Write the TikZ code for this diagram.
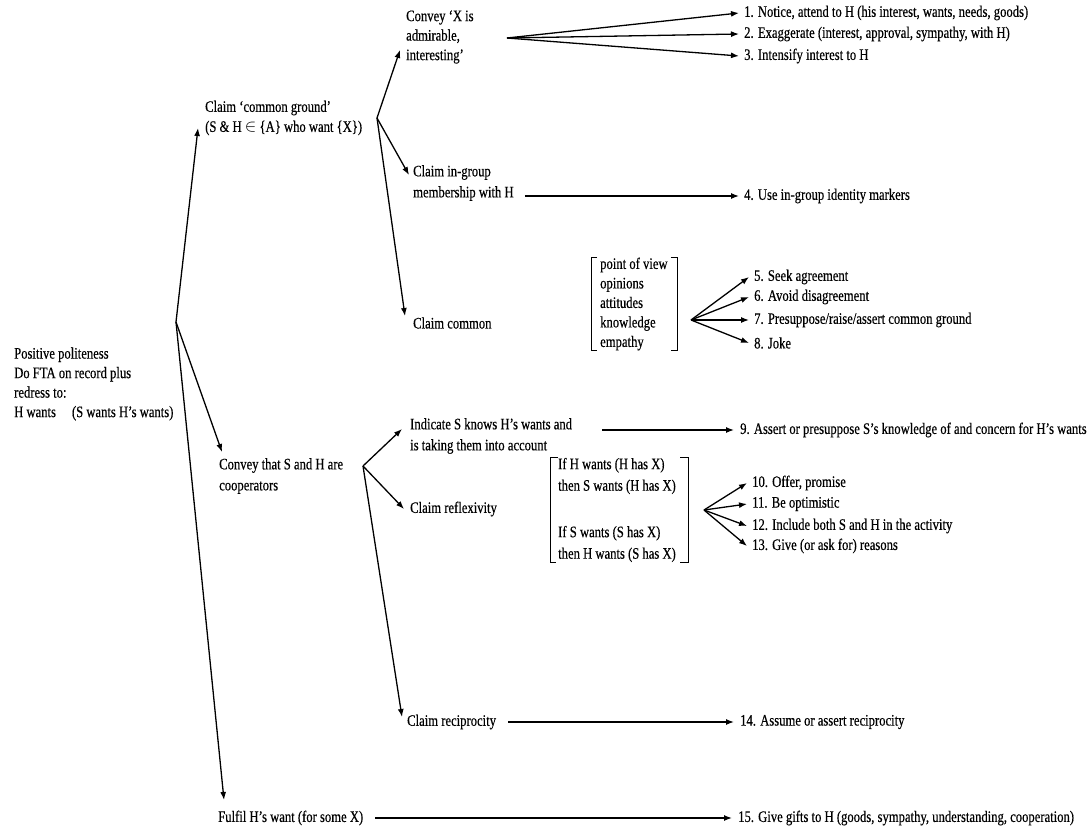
\documentclass[tikz,border=0pt]{standalone}
\usepackage{fontspec}
\setmainfont{Liberation Serif}[FakeStretch=0.79, FakeBold=0.4]
\usepackage{xcolor}
\usepackage{tikz}
\usetikzlibrary{arrows.meta, positioning, calc}
\tikzset{
    txt/.style={anchor=west, inner sep=0pt, align=left, font=\fontsize{16}{20}\selectfont},
    branch/.style={-{Latex[length=8pt,width=6pt]}, line width=1.3pt},
    bracket/.style={line width=1pt}
}

\begin{document}
\begin{tikzpicture}[x=1pt,y=-1pt]
    \useasboundingbox (0,0) rectangle (1092,835);

    \node[txt, font=\fontsize{16}{19.5}\selectfont] (pp) at (14,384) {Positive politeness\\Do FTA on record plus\\redress to:\\H wants\quad(S wants H's wants)};

    \node[txt] (ccg) at (205,118) {Claim `common ground'\\(S \& H $\in$ \{A\} who want \{X\})};
    \node[txt, font=\fontsize{16}{19.5}\selectfont] (cxa) at (406,37) {Convey `X is\\admirable,\\interesting'};
    \node[txt] (s1) at (744,13) {1. Notice, attend to H (his interest, wants, needs, goods)};
    \node[txt] (s2) at (744,34) {2. Exaggerate (interest, approval, sympathy, with H)};
    \node[txt] (s3) at (744,56) {3. Intensify interest to H};
    \node[txt, font=\fontsize{16}{21}\selectfont] (cig) at (413,183) {Claim in-group\\membership with H};
    \node[txt] (s4) at (744,196) {4. Use in-group identity markers};
    \node[txt] (cc) at (413,323) {Claim common};
    \node[txt, font=\fontsize{16}{19.5}\selectfont] (lst) at (600,304) {point of view\\opinions\\attitudes\\knowledge\\empathy};
    \node[txt] (s5) at (754,277) {5. Seek agreement};
    \node[txt] (s6) at (754,297) {6. Avoid disagreement};
    \node[txt] (s7) at (754,320) {7. Presuppose/raise/assert common ground};
    \node[txt] (s8) at (754,343) {8. Joke};

    \node[txt, font=\fontsize{16}{21}\selectfont] (coop) at (219,476) {Convey that S and H are\\cooperators};
    \node[txt, font=\fontsize{16}{21}\selectfont] (ind) at (410,436) {Indicate S knows H's wants and\\is taking them into account};
    \node[txt] (s9) at (740,430) {9. Assert or presuppose S's knowledge of and concern for H's wants};
    \node[txt] (crf) at (410,509) {Claim reflexivity};
    \node[txt, font=\fontsize{16}{21.5}\selectfont] (cnd) at (558,510) {If H wants (H has X)\\then S wants (H has X)\\[25pt]If S wants (S has X)\\then H wants (S has X)};
    \node[txt] (s10) at (752,483) {10. Offer, promise};
    \node[txt] (s11) at (752,504) {11. Be optimistic};
    \node[txt] (s12) at (752,526) {12. Include both S and H in the activity};
    \node[txt] (s13) at (752,546) {13. Give (or ask for) reasons};
    \node[txt] (crc) at (407,722) {Claim reciprocity};
    \node[txt] (s14) at (740,722) {14. Assume or assert reciprocity};

    \node[txt] (ful) at (218,818) {Fulfil H's want (for some X)};
    \node[txt] (s15) at (738,818) {15. Give gifts to H (goods, sympathy, understanding, cooperation)};

    \coordinate (o1) at (176,322);
    \coordinate (o2) at (377,118);
    \coordinate (o3) at (507,38);
    \coordinate (o4) at (691,320);
    \coordinate (o5) at (363,466);
    \coordinate (o6) at (704,510);

    \draw[branch] (o1) -- ([xshift=-7pt,yshift=-10pt]ccg.west);
    \draw[branch] (o1) -- ([xshift=3pt,yshift=24pt]coop.west);
    \draw[branch] (o1) -- ([xshift=6pt,yshift=18pt]ful.west);

    \draw[branch] (o2) -- ([xshift=-6pt,yshift=-13pt]cxa.west);
    \draw[branch] (o2) -- ([xshift=-4pt,yshift=8pt]cig.west);
    \draw[branch] (o2) -- ([xshift=-8pt,yshift=7pt]cc.west);
    \foreach \n in {s1,s2,s3}
        \draw[branch] (o3) -- ([xshift=-5pt]\n.west);
    \draw[branch] ($(cig.east |- s4.west)+(11,0)$) -- ([xshift=-5pt]s4.west);

    \draw[bracket] ($(lst.north west)+(-3,0)$) -- ++(-6,0) |- ($(lst.south west)+(-3,0)$);
    \draw[bracket] ($(lst.north east)+(3,0)$) -- ++(7,0) |- ($(lst.south east)+(3,0)$);
    \foreach \n in {s5,s6,s7,s8}
        \draw[branch] (o4) -- ([xshift=-5pt]\n.west);

    \draw[branch] (o5) -- ([xshift=-8pt,yshift=7pt]ind.west);
    \draw[branch] (o5) -- ([xshift=-6pt]crf.west);
    \draw[branch] (o5) -- ([xshift=-5pt,yshift=5pt]crc.west);
    \draw[branch] ($(ind.east |- s9.west)+(30,0)$) -- ([xshift=-6pt]s9.west);

    \draw[bracket] ($(cnd.north west)+(0,0)$) -- ++(-8,0) |- ($(cnd.south west)+(-2,0)$);
    \draw[bracket] ($(cnd.north east)+(4,0)$) -- ++(8,0) |- ($(cnd.south east)+(4,0)$);
    \foreach \n in {s10,s11,s12,s13}
        \draw[branch] (o6) -- ([xshift=-5pt]\n.west);

    \draw[branch] ($(crc.east)+(12,0)$) -- ([xshift=-6pt]s14.west);
    \draw[branch] ($(ful.east)+(12,0)$) -- ([xshift=-6pt]s15.west);
\end{tikzpicture}
\end{document}
